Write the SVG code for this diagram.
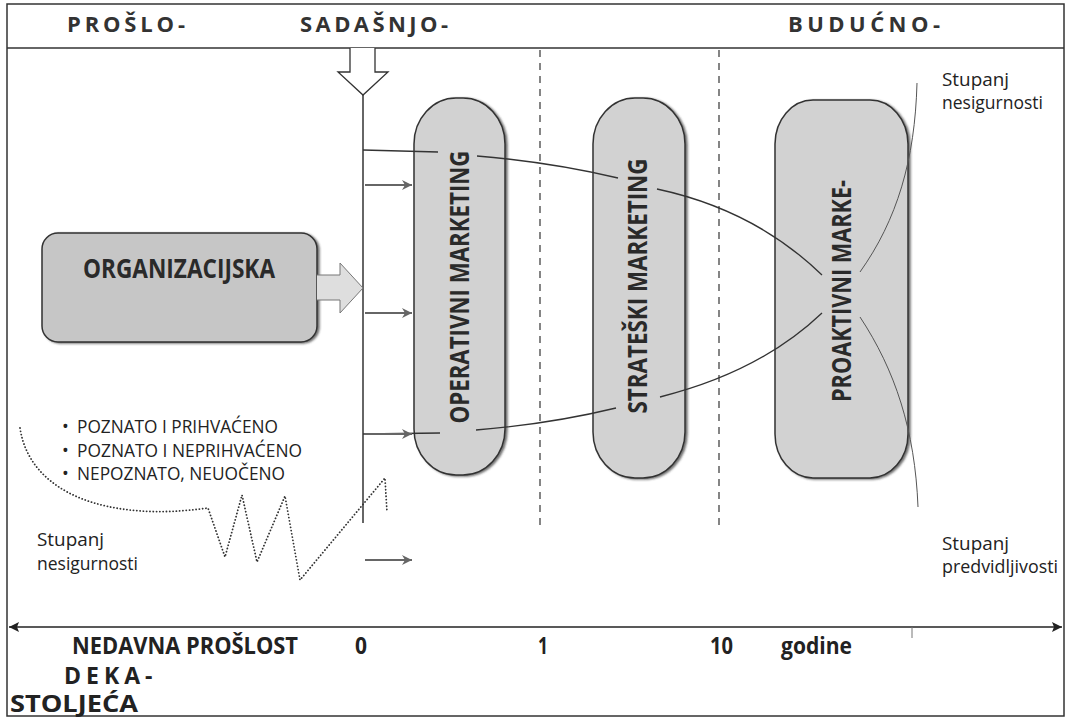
<svg xmlns="http://www.w3.org/2000/svg" width="1071" height="720" viewBox="0 0 1071 720">
<style>
.hdr{font-family:"Open Sans","Liberation Sans",sans-serif;font-weight:bold;font-size:22px;fill:#333}
.pilltxt{font-family:"Open Sans","Liberation Sans",sans-serif;font-weight:bold;font-size:26px;fill:#2a2a2a}
.txt{font-family:"Open Sans","Liberation Sans",sans-serif;font-size:18px;fill:#222}
.ax{font-family:"Open Sans","Liberation Sans",sans-serif;font-weight:bold;font-size:23px;fill:#222}
.pill{fill:#d2d2d2;stroke:#333;stroke-width:1.5}
.ln{fill:none;stroke:#333;stroke-width:1.3}
.thin{fill:none;stroke:#555;stroke-width:1}
.sm{fill:none;stroke:#666;stroke-width:2}
.dash{fill:none;stroke:#444;stroke-width:1.3;stroke-dasharray:7,6}
.dot{fill:none;stroke:#333;stroke-width:1.8;stroke-dasharray:0.1,3.2;stroke-linecap:round}
</style>
<defs>
<marker id="ah" viewBox="0 0 10 10" refX="10" refY="5" markerWidth="14" markerHeight="10" markerUnits="userSpaceOnUse" orient="auto"><path d="M0,0 L10,5 L0,10 L3,5 Z" fill="#666"/></marker>
<marker id="axh" viewBox="0 0 10 10" refX="10" refY="5" markerWidth="14" markerHeight="10" markerUnits="userSpaceOnUse" orient="auto-start-reverse"><path d="M0,0 L10,5 L0,10 L2,5 Z" fill="#222"/></marker>
<filter id="sh" x="-10%" y="-10%" width="130%" height="120%"><feDropShadow dx="2" dy="1" stdDeviation="1.2" flood-color="#333" flood-opacity="0.7"/></filter>
</defs>
<rect x="0" y="0" width="1071" height="720" fill="#ffffff"/>
<rect x="7" y="4" width="1057" height="712" fill="none" stroke="#333" stroke-width="1.5"/>
<line x1="7" y1="48" x2="1064" y2="48" stroke="#333" stroke-width="1.5"/>

<g id="header">
<text class="hdr" x="67" y="32" textLength="118" lengthAdjust="spacing">PROŠLO-</text>
<text class="hdr" x="300" y="32" textLength="148" lengthAdjust="spacing">SADAŠNJO-</text>
<text class="hdr" x="788" y="32" textLength="152" lengthAdjust="spacing">BUDUĆNO-</text>
</g>

<g id="dividers">
<line class="dash" x1="540" y1="50" x2="540" y2="525"/>
<line class="dash" x1="719" y1="50" x2="719" y2="525"/>
</g>

<g id="present-line">
<path d="M350,48 L350,72 L338,72 L363,95 L388,72 L375,72 L375,48" fill="#fff" stroke="#333" stroke-width="1.3"/>
<line x1="363" y1="95" x2="363" y2="523" stroke="#333" stroke-width="1.5"/>
</g>

<g id="organizacijska">
<rect x="42" y="233" width="275" height="109" rx="16" ry="16" fill="#c6c6c6" stroke="#333" stroke-width="1.5" filter="url(#sh)"/>
<text class="pilltxt" x="179" y="278" font-size="24" text-anchor="middle" textLength="192" lengthAdjust="spacingAndGlyphs">ORGANIZACIJSKA</text>
</g>
<g id="organizacijska-arrow">
<path d="M317,275 L340,275 L340,263 L363,288 L340,313 L340,300 L317,300" fill="#dedede" stroke="#777" stroke-width="1"/>
</g>

<g id="operativni">
<rect class="pill" x="414" y="98" width="91" height="377" rx="42" ry="46" filter="url(#sh)"/>
<text class="pilltxt" transform="translate(460,287) rotate(-90)" x="0" y="9" text-anchor="middle" textLength="273" lengthAdjust="spacingAndGlyphs">OPERATIVNI MARKETING</text>
</g>
<g id="strateski">
<rect class="pill" x="593" y="98" width="92" height="380" rx="42" ry="46" filter="url(#sh)"/>
<text class="pilltxt" transform="translate(638,286) rotate(-90)" x="0" y="9" text-anchor="middle" textLength="255" lengthAdjust="spacingAndGlyphs">STRATEŠKI MARKETING</text>
</g>
<g id="proaktivni">
<rect class="pill" x="775" y="100" width="133" height="378" rx="38" ry="44" filter="url(#sh)"/>
<text class="pilltxt" transform="translate(842,291) rotate(-90)" x="0" y="9" text-anchor="middle" textLength="222" lengthAdjust="spacingAndGlyphs">PROAKTIVNI MARKE-</text>
</g>

<g id="connectors">
<line class="ln" x1="363" y1="150" x2="438" y2="152"/>
<line class="sm" x1="365" y1="185" x2="412" y2="185" marker-end="url(#ah)"/>
<line class="sm" x1="365" y1="313" x2="412" y2="313" marker-end="url(#ah)"/>
<line class="ln" x1="363" y1="434" x2="440" y2="433"/>
<line class="sm" x1="365" y1="434" x2="412" y2="434" marker-end="url(#ah)"/>
<line class="sm" x1="365" y1="560" x2="412" y2="560" marker-end="url(#ah)"/>
<path class="ln" d="M477,156 Q550,162 618,178"/>
<path class="ln" d="M657,189 Q755,210 822,275"/>
<path class="ln" d="M476,430 Q550,424 616,408"/>
<path class="ln" d="M660,397 Q760,372 822,313"/>
<path class="thin" d="M917,83 C915,160 897,220 860,272"/>
<path class="thin" d="M860,317 C895,370 915,430 918,507"/>
<path class="dot" d="M20,428 C30,495 110,522 208,508 L225,557 L242,495 L257,562 L285,496 L300,580 L385,478 L387,512"/>
<line x1="9" y1="627" x2="1062" y2="627" stroke="#222" stroke-width="1.6" marker-start="url(#axh)" marker-end="url(#axh)"/>
<line x1="912" y1="627" x2="912" y2="638" stroke="#777" stroke-width="1"/>
</g>

<g id="labels">
<text class="txt" x="62" y="433" font-size="16">•</text>
<text class="txt" x="77" y="433" textLength="201" lengthAdjust="spacingAndGlyphs">POZNATO I PRIHVAĆENO</text>
<text class="txt" x="62" y="457" font-size="16">•</text>
<text class="txt" x="77" y="457" textLength="225" lengthAdjust="spacingAndGlyphs">POZNATO I NEPRIHVAĆENO</text>
<text class="txt" x="62" y="480" font-size="16">•</text>
<text class="txt" x="77" y="480" textLength="208" lengthAdjust="spacingAndGlyphs">NEPOZNATO, NEUOČENO</text>
<text class="txt" x="37" y="546" textLength="67" lengthAdjust="spacingAndGlyphs">Stupanj</text>
<text class="txt" x="37" y="570" textLength="101" lengthAdjust="spacingAndGlyphs">nesigurnosti</text>
<text class="txt" x="942" y="86" textLength="67" lengthAdjust="spacingAndGlyphs">Stupanj</text>
<text class="txt" x="942" y="109" textLength="101" lengthAdjust="spacingAndGlyphs">nesigurnosti</text>
<text class="txt" x="942" y="550" textLength="67" lengthAdjust="spacingAndGlyphs">Stupanj</text>
<text class="txt" x="942" y="573" textLength="116" lengthAdjust="spacingAndGlyphs">predvidljivosti</text>
</g>

<g id="axis-labels">
<text class="ax" x="72" y="654" textLength="226" lengthAdjust="spacingAndGlyphs">NEDAVNA PROŠLOST</text>
<text class="ax" x="355" y="654" textLength="12" lengthAdjust="spacingAndGlyphs">0</text>
<text class="ax" x="538" y="654" textLength="10" lengthAdjust="spacingAndGlyphs">1</text>
<text class="ax" x="710" y="654" textLength="23" lengthAdjust="spacingAndGlyphs">10</text>
<text class="ax" x="781" y="654" textLength="71" lengthAdjust="spacingAndGlyphs">godine</text>
<text class="ax" x="64" y="684" font-size="18" letter-spacing="5">DEKA-</text>
<text class="ax" x="10" y="712" textLength="128" lengthAdjust="spacingAndGlyphs">STOLJEĆA</text>
</g>
</svg>
